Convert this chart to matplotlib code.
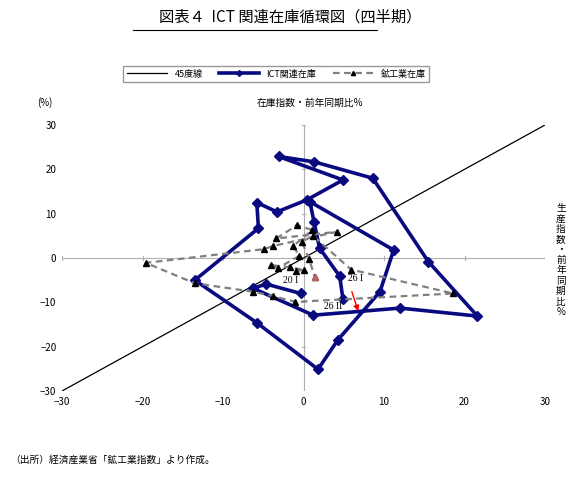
import matplotlib
matplotlib.use("Agg")
import matplotlib.pyplot as plt
from matplotlib.lines import Line2D

plt.rcParams['font.family'] = ['Noto Sans CJK JP', 'DejaVu Sans']

ict_x = [-0.35, -4.6, -6.3, 1.2, 12.0, 21.6, 15.5, 8.6, 1.3, -3.1, 4.9, 0.4, -3.3, -5.8, -5.6, -13.5,
         -5.8, 1.8, 4.3, 9.5, 11.2, 0.8, 1.3, 2.0, 4.5, 4.9]
ict_y = [-8.0, -5.9, -6.8, -12.9, -11.3, -13.1, -0.8, 18.0, 21.7, 22.9, 17.6, 13.1, 10.4, 12.5, 6.7, -5.0,
         -14.6, -25.1, -18.4, -7.6, 1.8, 12.7, 8.2, 2.2, -4.1, -9.3]
min_x = [-0.9, 0.1, -1.7, -4.0, -3.2, -0.5, -1.3, 1.1, -0.8, -3.4, 4.1, -3.8, -4.9, -19.6, -13.5, -6.3,
         -3.8, -1.0, 18.6, 5.9, 1.2, -0.2, 0.7, 1.4]
min_y = [-2.9, -2.7, -2.1, -1.6, -2.3, 0.5, 2.7, 6.3, 7.4, 4.4, 5.9, 2.7, 2.0, -1.1, -5.7, -7.6,
         -8.6, -9.9, -8.0, -2.6, 5.0, 3.7, -0.3, -4.2]
ticks = [-30, -20, -10, 0, 10, 20, 30]

fig = plt.figure(figsize=(5.8, 4.79), dpi=100)
ax = fig.add_axes([62/580, 1-391/479, (545-62)/580, (391-125)/479])
ax.set_xlim(-30, 30); ax.set_ylim(-30, 30)
for s in ax.spines.values():
    s.set_visible(False)
ax.axhline(0, color='#b0b0b0', lw=0.8, zorder=0)
ax.axvline(0, color='#b0b0b0', lw=0.8, zorder=0)
for t in ticks:
    ax.plot([t, t], [-0.4, 0.4], color='#b0b0b0', lw=0.8, zorder=0)
    ax.plot([-0.2, 0.2], [t, t], color='#b0b0b0', lw=0.8, zorder=0)
ax.set_xticks(ticks); ax.set_yticks(ticks)
ax.tick_params(length=0, labelsize=7, pad=4)

ax.plot(ticks, ticks, color='black', lw=0.9)
ax.plot(ict_x, ict_y, color='#0a0a80', lw=2.6, marker='D', ms=5)
ax.plot(min_x, min_y, color='#808080', lw=1.6, ls=(0, (3, 2)), marker='^', ms=4,
        mfc='black', mec='black')
ax.plot([1.4], [-4.2], marker='^', ms=4, color='#c06060', ls='none')
ax.text(-2.5, -5.6, '20 I', fontsize=7, family=['Liberation Serif', 'DejaVu Serif'])
ax.text(5.5, -5.3, '26 I', fontsize=7, family=['Liberation Serif', 'DejaVu Serif'])
ax.text(2.5, -11.6, '26 II', fontsize=7, family=['Liberation Serif', 'DejaVu Serif'])
ax.annotate('', xy=(6.9, -12.6), xytext=(5.9, -7.0),
            arrowprops=dict(arrowstyle='-|>', color='red', lw=1, mutation_scale=8))

fig.text(0.5, 1-17/479, '図表４  ICT 関連在庫循環図（四半期）', ha='center', va='center', fontsize=11)
fig.add_artist(Line2D([133/580, 377/580], [1-30/479, 1-30/479], color='black', lw=0.8))
fig.text(45/580, 1-103/479, '(%)', ha='center', va='center', fontsize=7)
fig.text(310/580, 1-103/479, '在庫指数・前年同期比%', ha='center', va='center', fontsize=7)
fig.text(561/580, 1-260/479, '\n'.join('生産指数・前年同期比%'), ha='center', va='center',
         fontsize=7, linespacing=1.05)
fig.text(10/580, 1-460/479, '（出所）経済産業省「鉱工業指数」より作成。', ha='left', va='center', fontsize=7)

handles = [Line2D([], [], color='black', lw=0.9),
           Line2D([], [], color='#0a0a80', lw=2.6, marker='D', ms=3),
           Line2D([], [], color='#808080', lw=1.6, ls=(0, (3, 2)), marker='^', ms=3, mfc='black', mec='black')]
fig.legend(handles, ['45度線', 'ICT関連在庫', '鉱工業在庫'], loc='center',
           bbox_to_anchor=(276/580, 1-74/479), ncol=3, fontsize=6.5, frameon=True, fancybox=False,
           edgecolor='#808080', handlelength=4.5, columnspacing=1.8, borderpad=0.4)
fig.savefig('out.png', dpi=100)
